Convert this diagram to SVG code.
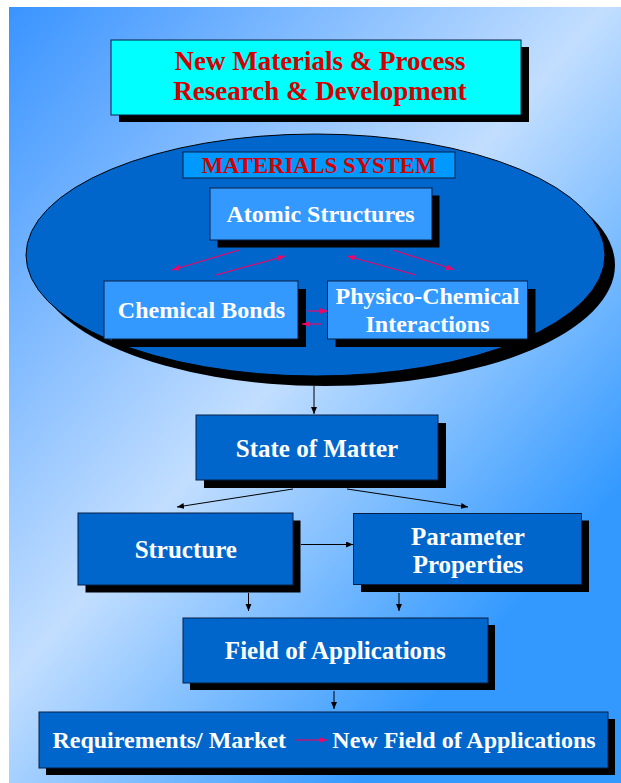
<svg xmlns="http://www.w3.org/2000/svg" width="621" height="783" viewBox="0 0 621 783">
<defs>
<linearGradient id="bg" gradientUnits="userSpaceOnUse" x1="9" y1="7" x2="738" y2="651">
<stop offset="0" stop-color="#3a94ff"/>
<stop offset="0.46" stop-color="#c2deff"/>
<stop offset="0.8" stop-color="#3399ff"/>
<stop offset="1" stop-color="#3399ff"/>
</linearGradient>
<marker id="ah" markerUnits="userSpaceOnUse" markerWidth="8" markerHeight="8" refX="7" refY="3" orient="auto">
<path d="M0,0 L7,3 L0,6 Z" fill="#000"/>
</marker>
<marker id="ahp" markerUnits="userSpaceOnUse" markerWidth="9" markerHeight="8" refX="8" refY="3" orient="auto">
<path d="M0,0 L8,3 L0,6 Z" fill="#e8086a"/>
</marker>
</defs>
<style>
.sh{fill:#000}
.box{stroke:#0a1f44;stroke-width:1}
.dark{fill:#0066cc}
.light{fill:#3399ff}
.t{font-family:"Liberation Serif","Times New Roman",serif;font-weight:bold;text-anchor:middle}
.w{fill:#ffffff}
.r{fill:#d40000}
.c{stroke:#000;stroke-width:1;fill:none;marker-end:url(#ah)}
.p{stroke:#e8086a;stroke-width:1.2;fill:none;marker-end:url(#ahp)}
</style>
<rect x="9" y="7" width="612" height="776" fill="url(#bg)"/>

<g id="title">
<rect class="sh" x="119" y="47" width="410" height="75"/>
<rect class="box" x="111" y="40" width="410" height="75" fill="#00ffff"/>
<text class="t r" x="320" y="70" font-size="27">New Materials &amp; Process</text>
<text class="t r" x="320" y="100" font-size="27">Research &amp; Development</text>
</g>

<g id="materials-system">
<ellipse class="sh" cx="325.5" cy="265" rx="289.5" ry="121"/>
<ellipse cx="315.5" cy="255" rx="289.5" ry="121" fill="#0066cc" stroke="#000" stroke-width="1"/>
<rect class="box" x="183" y="152" width="272" height="26" fill="#0099ff"/>
<text class="t r" x="319" y="172.5" font-size="22.7">MATERIALS SYSTEM</text>
</g>

<g id="atomic-structures">
<rect class="sh" x="217.5" y="195.5" width="222" height="52"/>
<rect class="box light" x="210" y="188" width="222" height="52"/>
<text class="t w" x="320.5" y="222" font-size="24">Atomic Structures</text>
</g>

<g id="chemical-bonds">
<rect class="sh" x="112" y="289" width="194" height="58"/>
<rect class="box light" x="104" y="281" width="194" height="58"/>
<text class="t w" x="201.5" y="317.5" font-size="24">Chemical Bonds</text>
</g>

<g id="physico-chemical">
<rect class="sh" x="335.5" y="289" width="200" height="58"/>
<rect class="box light" x="327.5" y="281" width="200" height="58"/>
<text class="t w" x="427.5" y="304" font-size="24">Physico-Chemical</text>
<text class="t w" x="427.5" y="331.5" font-size="24">Interactions</text>
</g>

<g id="state-of-matter">
<rect class="sh" x="204" y="423" width="242" height="65"/>
<rect class="box dark" x="196" y="415" width="242" height="65"/>
<text class="t w" x="317" y="457" font-size="25">State of Matter</text>
</g>

<g id="structure">
<rect class="sh" x="85.5" y="520.5" width="215" height="72"/>
<rect class="box dark" x="78" y="513" width="215" height="72"/>
<text class="t w" x="185.8" y="558" font-size="25">Structure</text>
</g>

<g id="parameter-properties">
<rect class="sh" x="361" y="520.5" width="228" height="71.5"/>
<rect class="box dark" x="353.5" y="513.5" width="228" height="71"/>
<text class="t w" x="468" y="545" font-size="25">Parameter</text>
<text class="t w" x="468" y="573" font-size="25">Properties</text>
</g>

<g id="field-of-applications">
<rect class="sh" x="190" y="625" width="305" height="65"/>
<rect class="box dark" x="183" y="618" width="305" height="65"/>
<text class="t w" x="335.3" y="658.5" font-size="25">Field of Applications</text>
</g>

<g id="requirements-market">
<rect class="sh" x="46" y="719" width="569" height="56"/>
<rect class="box dark" x="39" y="712" width="569" height="56"/>
<text class="t w" x="169.2" y="748" font-size="24">Requirements/ Market</text>
<text class="t w" x="464" y="748" font-size="24">New Field of Applications</text>
</g>

<g id="connectors">
<line class="p" x1="239" y1="250" x2="172" y2="270"/>
<line class="p" x1="216" y1="275" x2="285" y2="256"/>
<line class="p" x1="416" y1="275" x2="347" y2="256"/>
<line class="p" x1="393" y1="250" x2="454" y2="269.5"/>
<line class="p" x1="307" y1="311" x2="328" y2="311"/>
<line class="p" x1="322" y1="324" x2="302" y2="324"/>
<line class="c" x1="314" y1="386" x2="314" y2="414"/>
<line class="c" x1="293" y1="489" x2="177" y2="507"/>
<line class="c" x1="347" y1="489" x2="468" y2="507"/>
<line class="c" x1="301" y1="544.5" x2="353" y2="544.5"/>
<line class="c" x1="248.5" y1="593" x2="248.5" y2="611"/>
<line class="c" x1="399" y1="593" x2="399" y2="611"/>
<line class="c" x1="334" y1="691" x2="334" y2="709"/>
<line class="p" x1="295" y1="740" x2="327" y2="740"/>
</g>
</svg>
